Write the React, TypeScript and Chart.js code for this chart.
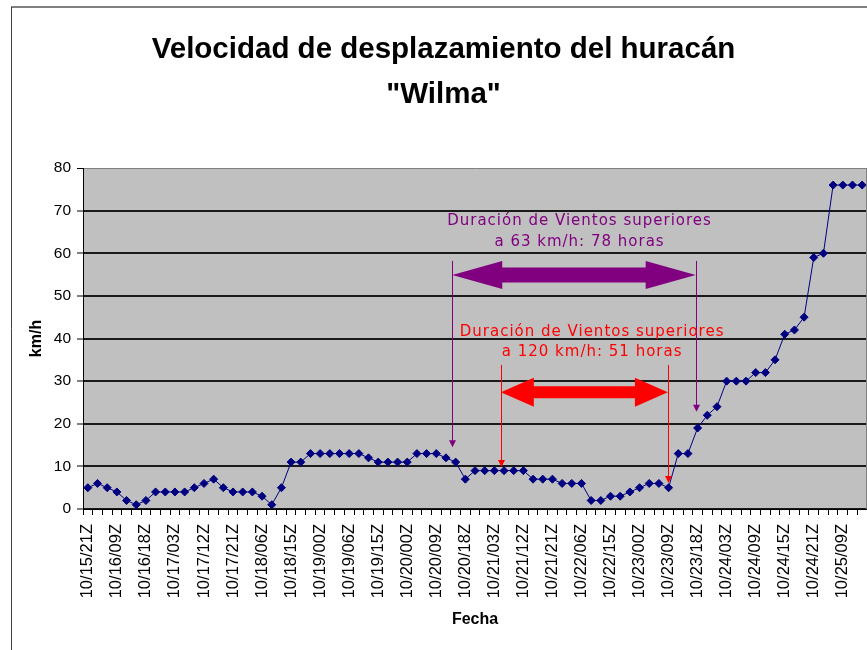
import React, { useEffect, useRef } from 'react';
import { Chart, registerables } from 'chart.js';

Chart.register(...registerables);

// ---- Data ----
const categories: string[] = [
  '10/15/21Z', '10/16/00Z', '10/16/03Z', '10/16/09Z', '10/16/12Z', '10/16/15Z',
  '10/16/18Z', '10/16/21Z', '10/17/00Z', '10/17/03Z', '10/17/06Z', '10/17/09Z',
  '10/17/12Z', '10/17/15Z', '10/17/18Z', '10/17/21Z', '10/18/00Z', '10/18/03Z',
  '10/18/06Z', '10/18/09Z', '10/18/12Z', '10/18/15Z', '10/18/18Z', '10/18/21Z',
  '10/19/00Z', '10/19/02Z', '10/19/04Z', '10/19/06Z', '10/19/09Z', '10/19/12Z',
  '10/19/15Z', '10/19/18Z', '10/19/21Z', '10/20/00Z', '10/20/03Z', '10/20/06Z',
  '10/20/09Z', '10/20/12Z', '10/20/15Z', '10/20/18Z', '10/20/21Z', '10/21/00Z',
  '10/21/03Z', '10/21/06Z', '10/21/09Z', '10/21/12Z', '10/21/15Z', '10/21/18Z',
  '10/21/21Z', '10/22/00Z', '10/22/03Z', '10/22/06Z', '10/22/09Z', '10/22/12Z',
  '10/22/15Z', '10/22/18Z', '10/22/21Z', '10/23/00Z', '10/23/03Z', '10/23/06Z',
  '10/23/09Z', '10/23/12Z', '10/23/15Z', '10/23/18Z', '10/23/21Z', '10/24/00Z',
  '10/24/03Z', '10/24/05Z', '10/24/07Z', '10/24/09Z', '10/24/11Z', '10/24/13Z',
  '10/24/15Z', '10/24/17Z', '10/24/19Z', '10/24/21Z', '10/25/00Z', '10/25/03Z',
  '10/25/09Z', '10/25/12Z', '10/25/15Z',
];

const speeds: number[] = [
  5, 6, 5, 4, 2, 1, 2, 4, 4, 4,
  4, 5, 6, 7, 5, 4, 4, 4, 3, 1,
  5, 11, 11, 13, 13, 13, 13, 13, 13, 12,
  11, 11, 11, 11, 13, 13, 13, 12, 11, 7,
  9, 9, 9, 9, 9, 9, 7, 7, 7, 6,
  6, 6, 2, 2, 3, 3, 4, 5, 6, 6,
  5, 13, 13, 19, 22, 24, 30, 30, 30, 32,
  32, 35, 41, 42, 45, 59, 60, 76, 76, 76,
  76,
];

const yMin = 0;
const yMax = 80;
const yStep = 10;
const labelEvery = 3;

const titleLines = ['Velocidad de desplazamiento del huracán', '"Wilma"'];
const xTitle = 'Fecha';
const yTitle = 'km/h';

// Annotations (x in category index units, y in km/h)
const purpleText = ['Duración de Vientos superiores', 'a 63 km/h: 78 horas'];
const purpleTextPos = [50.8, 67.6, 62.7];
const purpleSpan = [37.65, 62.8];
const purpleArrowVal = 54.9;
const purpleDrop = [58.2, 14.5, 22.8]; // top, left end, right end

const redText = ['Duración de Vientos superiores', 'a 120 km/h: 51 horas'];
const redTextPos = [52.1, 41.6, 36.9];
const redSpan = [42.67, 59.93];
const redArrowVal = 27.4;
const redDrop = [33.8, 9.85, 6.1];

const PURPLE = '#800080';
const RED = '#FF0000';
const NAVY = '#000080';
const FONT = '"Liberation Sans", Arial, sans-serif';

function drawDoubleArrow(ctx: CanvasRenderingContext2D, x1: number, x2: number, y: number,
  headLen: number, headHalf: number, shaftHalf: number, color: string) {
  ctx.beginPath();
  ctx.moveTo(x1, y);
  ctx.lineTo(x1 + headLen, y - headHalf);
  ctx.lineTo(x1 + headLen, y - shaftHalf);
  ctx.lineTo(x2 - headLen, y - shaftHalf);
  ctx.lineTo(x2 - headLen, y - headHalf);
  ctx.lineTo(x2, y);
  ctx.lineTo(x2 - headLen, y + headHalf);
  ctx.lineTo(x2 - headLen, y + shaftHalf);
  ctx.lineTo(x1 + headLen, y + shaftHalf);
  ctx.lineTo(x1 + headLen, y + headHalf);
  ctx.closePath();
  ctx.fillStyle = color;
  ctx.fill();
}

function drawDrop(ctx: CanvasRenderingContext2D, x: number, yTop: number, yEnd: number, color: string) {
  const px = Math.round(x) + 0.5;
  ctx.strokeStyle = color;
  ctx.lineWidth = 1;
  ctx.beginPath();
  ctx.moveTo(px, yTop);
  ctx.lineTo(px, yEnd - 5);
  ctx.stroke();
  ctx.fillStyle = color;
  ctx.beginPath();
  ctx.moveTo(px - 3.5, yEnd - 7);
  ctx.lineTo(px + 3.5, yEnd - 7);
  ctx.lineTo(px, yEnd);
  ctx.closePath();
  ctx.fill();
}

function drawLabel(ctx: CanvasRenderingContext2D, lines: string[], x: number, ys: number[], color: string) {
  ctx.font = '15px "DejaVu Sans", Verdana, sans-serif';
  (ctx as any).letterSpacing = '1px';
  ctx.fillStyle = color;
  ctx.textAlign = 'center';
  ctx.textBaseline = 'middle';
  lines.forEach((t, i) => ctx.fillText(t, x, ys[i]));
  (ctx as any).letterSpacing = '0px';
}

const framePlugin = {
  id: 'framePlugin',
  beforeDraw(chart: any) {
    const { ctx, chartArea: a } = chart;
    ctx.save();
    ctx.fillStyle = '#C0C0C0';
    ctx.fillRect(a.left, a.top, a.right - a.left, a.bottom - a.top);
    ctx.strokeStyle = '#808080';
    ctx.lineWidth = 2;
    ctx.beginPath();
    ctx.moveTo(11, 7);
    ctx.lineTo(chart.width, 7);
    ctx.stroke();
    ctx.strokeStyle = '#404040';
    ctx.lineWidth = 1;
    ctx.beginPath();
    ctx.moveTo(11.5, 7);
    ctx.lineTo(11.5, chart.height);
    ctx.stroke();
    ctx.restore();
  },
  afterDatasetsDraw(chart: any) {
    const { ctx, chartArea: a, scales } = chart;
    const xs = scales.x;
    const ys = scales.y;
    ctx.save();
    ctx.strokeStyle = '#808080';
    ctx.lineWidth = 1;
    ctx.beginPath();
    ctx.moveTo(a.right - 0.5, a.top);
    ctx.lineTo(a.right - 0.5, a.bottom);
    ctx.stroke();

    const pL = xs.getPixelForValue(purpleSpan[0]);
    const pR = xs.getPixelForValue(purpleSpan[1]);
    drawDrop(ctx, pL, ys.getPixelForValue(purpleDrop[0]), ys.getPixelForValue(purpleDrop[1]), PURPLE);
    drawDrop(ctx, pR, ys.getPixelForValue(purpleDrop[0]), ys.getPixelForValue(purpleDrop[2]), PURPLE);
    drawDoubleArrow(ctx, pL, pR, ys.getPixelForValue(purpleArrowVal), 50, 14, 7.5, PURPLE);
    drawLabel(ctx, purpleText, xs.getPixelForValue(purpleTextPos[0]),
      [ys.getPixelForValue(purpleTextPos[1]), ys.getPixelForValue(purpleTextPos[2])], PURPLE);

    const rL = xs.getPixelForValue(redSpan[0]);
    const rR = xs.getPixelForValue(redSpan[1]);
    drawDrop(ctx, rL, ys.getPixelForValue(redDrop[0]), ys.getPixelForValue(redDrop[1]), RED);
    drawDrop(ctx, rR, ys.getPixelForValue(redDrop[0]), ys.getPixelForValue(redDrop[2]), RED);
    drawDoubleArrow(ctx, rL, rR, ys.getPixelForValue(redArrowVal), 33, 14.5, 6, RED);
    drawLabel(ctx, redText, xs.getPixelForValue(redTextPos[0]),
      [ys.getPixelForValue(redTextPos[1]), ys.getPixelForValue(redTextPos[2])], RED);
    ctx.restore();
  },
};

export default function App() {
  const ref = useRef<HTMLCanvasElement>(null);

  useEffect(() => {
    if (!ref.current) return;
    Chart.defaults.font.family = FONT;
    Chart.defaults.color = '#000';
    const chart = new Chart(ref.current, {
      type: 'line',
      data: {
        labels: categories,
        datasets: [
          {
            label: 'km/h',
            data: speeds,
            borderColor: NAVY,
            borderWidth: 1,
            backgroundColor: NAVY,
            pointStyle: 'rectRot',
            pointRadius: 4,
            pointBorderWidth: 1,
            pointBackgroundColor: NAVY,
            pointBorderColor: NAVY,
            tension: 0,
            fill: false,
          },
        ],
      },
      options: {
        responsive: false,
        animation: false,
        devicePixelRatio: 1,
        layout: { autoPadding: false, padding: { left: 20, right: 0, top: 0, bottom: 0 } },
        plugins: {
          legend: { display: false },
          tooltip: { enabled: false },
          title: {
            display: true,
            text: titleLines,
            color: '#000',
            font: { family: FONT, size: 29.5, weight: 'bold', lineHeight: 1.5 },
            padding: { top: 28, bottom: 51.5 },
          },
        },
        scales: {
          x: {
            type: 'category',
            offset: true,
            afterFit: (axis: any) => {
              axis.height = 141;
              axis.paddingLeft = 0;
              axis.paddingRight = 0;
            },
            grid: {
              display: true,
              drawOnChartArea: false,
              drawTicks: true,
              tickLength: 6,
              offset: true,
              color: '#000',
              lineWidth: 1,
            },
            border: { display: true, color: '#000', width: 1 },
            ticks: {
              autoSkip: false,
              minRotation: 90,
              maxRotation: 90,
              padding: 9,
              color: '#000',
              font: { family: FONT, size: 16.5 },
              callback: function (this: any, val: any, index: number) {
                return index % labelEvery === 0 ? this.getLabelForValue(val) : '';
              },
            },
            title: {
              display: true,
              text: xTitle,
              color: '#000',
              font: { family: FONT, size: 16, weight: 'bold', lineHeight: 1.2 },
              padding: { top: 0, bottom: 21 },
            },
          },
          y: {
            min: yMin,
            max: yMax,
            afterFit: (axis: any) => {
              axis.width = 63;
              axis.paddingTop = 0;
              axis.paddingBottom = 0;
            },
            grid: {
              drawTicks: true,
              tickLength: 6,
              color: (c: any) => (c.tick && c.tick.value === yMax ? '#808080' : '#1a1a1a'),
              lineWidth: (c: any) => (c.tick && c.tick.value === yMax ? 1 : 2),
              tickColor: '#000',
              tickWidth: 1,
            },
            border: { display: true, color: '#000', width: 1 },
            ticks: {
              stepSize: yStep,
              padding: 6,
              color: '#000',
              font: { family: FONT, size: 15.5 },
            },
            title: {
              display: true,
              text: yTitle,
              color: '#000',
              font: { family: FONT, size: 16, weight: 'bold', lineHeight: 1.2 },
              padding: { top: 7, bottom: 0 },
            },
          },
        },
      },
      plugins: [framePlugin],
    } as any);
    return () => chart.destroy();
  }, []);

  return (
    <div style={{ position: 'fixed', left: 0, top: 0, width: 867, height: 650, background: '#fff' }}>
      <canvas ref={ref} width={867} height={650} style={{ display: 'block', width: 867, height: 650 }} />
    </div>
  );
}
